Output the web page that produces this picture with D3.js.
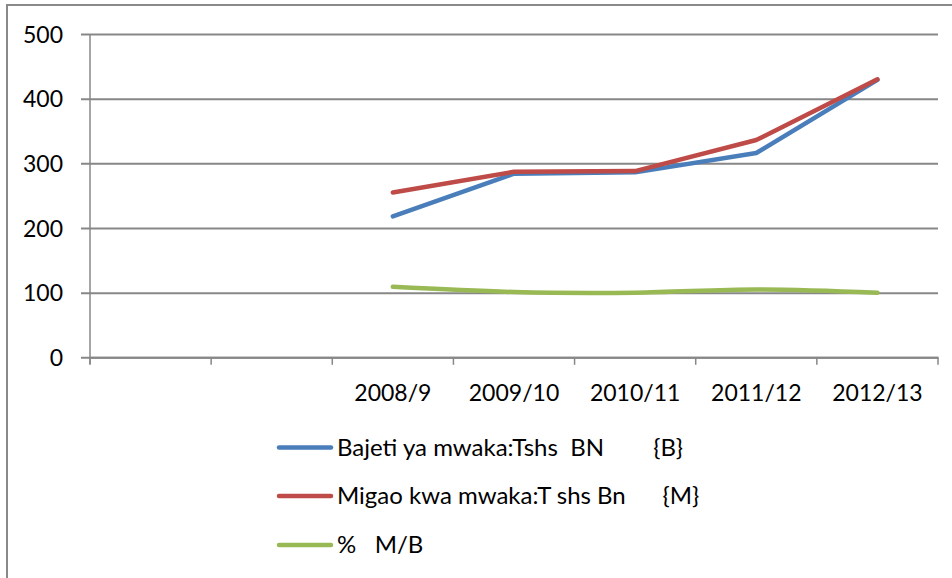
<!DOCTYPE html>
<html>
<head>
<meta charset="utf-8">
<script src="https://cdn.jsdelivr.net/npm/d3@7"></script>
<style>
  html, body { margin: 0; padding: 0; background: #fff; }
  svg { display: block; }
  text { font-family: Lato, "Open Sans", sans-serif; fill: #000; white-space: pre; }
</style>
</head>
<body>
<svg id="chart" width="952" height="578"></svg>
<script>
// Categories (first two slots are empty in the original chart)
const categories = ["", " ", "2008/9", "2009/10", "2010/11", "2011/12", "2012/13"];
const bajeti = [null, null, 218, 284, 286, 316, 429];
const migao  = [null, null, 255, 287, 288, 336, 430];
const asilimia = [null, null, 109, 101, 100, 105, 100];
const yTicks = [0, 100, 200, 300, 400, 500];
const seriesNames = ["Bajeti ya mwaka:Tshs  BN        {B}", "Migao kwa mwaka:T shs Bn      {M}", "%   M/B"];
const seriesColors = ["#4A7EBB", "#BE4B48", "#98B954"];

(function () {
const svg = d3.select("#chart");
const W = 952, H = 578;
const pLeft = 90, pRight = 938, pTop = 34, pBottom = 357.3;

// outer chart border (only top and left visible)
svg.append("rect").attr("x", 7).attr("y", 5).attr("width", W + 20).attr("height", H + 20)
  .attr("fill", "none").attr("stroke", "#898989").attr("stroke-width", 2);

const x = d3.scaleBand().domain(categories).range([pLeft, pRight]).paddingInner(0).paddingOuter(0);
const y = d3.scaleLinear().domain([0, 500]).range([pBottom, pTop]);

// gridlines + y axis labels
const yAxis = d3.axisLeft(y).tickValues(yTicks).tickSize(pRight - 81).tickPadding(17)
  .tickFormat(d3.format("d"));
const gy = svg.append("g").attr("transform", `translate(${pRight},0)`).call(yAxis);
gy.select(".domain").remove();
gy.selectAll(".tick line").attr("stroke", "#878787").attr("stroke-width", 2);
gy.selectAll(".tick text").attr("x", -(pRight - 63)).attr("text-anchor", "end")
  .style("font-size", "23px").attr("dy", "0.35em");

// y axis line
svg.append("line").attr("x1", pLeft).attr("x2", pLeft).attr("y1", pTop).attr("y2", pBottom + 7)
  .attr("stroke", "#878787").attr("stroke-width", 1.5);

// x axis
const xAxis = d3.axisBottom(x).tickSize(0).tickPadding(0);
const gx = svg.append("g").attr("transform", `translate(0,${pBottom})`).call(xAxis);
gx.select(".domain").attr("stroke", "#878787").attr("stroke-width", 2);
gx.selectAll(".tick line").remove();
gx.selectAll(".tick text").attr("y", 44).attr("dy", 0).style("font-size", "23px");
// band boundary ticks
const boundaries = categories.map(c => x(c)).concat([pRight]);
svg.append("g").selectAll("line").data(boundaries).join("line")
  .attr("x1", d => d).attr("x2", d => d).attr("y1", pBottom).attr("y2", pBottom + 7.5)
  .attr("stroke", "#878787").attr("stroke-width", 1.5);

// lines
const cx = (d, i) => x(categories[i]) + x.bandwidth() / 2;
const straight = d3.line().defined(d => d != null).x(cx).y(d => y(d));
const smooth = d3.line().defined(d => d != null).x(cx).y(d => y(d)).curve(d3.curveCatmullRom.alpha(0.5));
const seriesData = [bajeti, migao, asilimia];
const gens = [straight, straight, smooth];
seriesData.forEach((s, k) => {
  svg.append("path").attr("d", gens[k](s)).attr("fill", "none")
    .attr("stroke", seriesColors[k]).attr("stroke-width", 4.5)
    .attr("stroke-linecap", "round").attr("stroke-linejoin", "round");
});

// legend
const legY = [447.5, 496, 545];
const leg = svg.append("g");
seriesNames.forEach((name, k) => {
  leg.append("line").attr("x1", 279).attr("x2", 331).attr("y1", legY[k]).attr("y2", legY[k])
    .attr("stroke", seriesColors[k]).attr("stroke-width", 4.5).attr("stroke-linecap", "round");
  leg.append("text").attr("x", 337).attr("y", legY[k]).attr("dy", "0.35em")
    .style("font-size", "24px").text(name);
});
})();
</script>
</body>
</html>
